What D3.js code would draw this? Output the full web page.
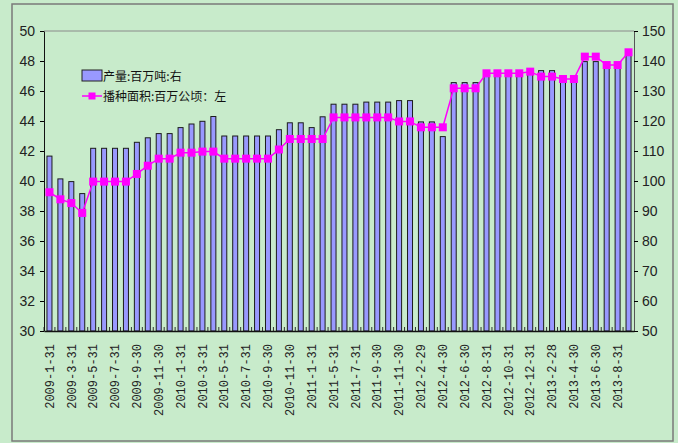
<!DOCTYPE html>
<html>
<head>
<meta charset="utf-8">
<script src="https://cdn.jsdelivr.net/npm/d3@7"></script>
<style>
  body { margin: 0; background: #fff; }
  svg { display: block; }
  .num { font-family: "Liberation Sans Narrow", "Arial Narrow", "Liberation Sans", sans-serif; font-size: 14px; fill: #222; }
  .xlab { font-family: "Liberation Mono", monospace; font-size: 12px; fill: #222; }
  .leg { font-family: "Noto Sans CJK SC", sans-serif; font-size: 12px; fill: #111; }
</style>
</head>
<body>
<div id="chart"></div>
<script>
// categories (month ends)
var dates = [
  "2009-1-31", "2009-2-28", "2009-3-31", "2009-4-30", "2009-5-31", "2009-6-30",
  "2009-7-31", "2009-8-31", "2009-9-30", "2009-10-31", "2009-11-30", "2009-12-31",
  "2010-1-31", "2010-2-28", "2010-3-31", "2010-4-30", "2010-5-31", "2010-6-30",
  "2010-7-31", "2010-8-31", "2010-9-30", "2010-10-31", "2010-11-30", "2010-12-31",
  "2011-1-31", "2011-3-31", "2011-5-31", "2011-6-30", "2011-7-31", "2011-8-31",
  "2011-9-30", "2011-10-31", "2011-11-30", "2011-12-31", "2012-2-29", "2012-3-31",
  "2012-4-30", "2012-5-31", "2012-6-30", "2012-7-31", "2012-8-31", "2012-9-30",
  "2012-10-31", "2012-11-30", "2012-12-31", "2013-1-31", "2013-2-28", "2013-3-31",
  "2013-4-30", "2013-5-31", "2013-6-30", "2013-7-31", "2013-8-31", "2013-9-30"
];
// 产量:百万吨 (bars, right axis)
var output = [
  108.3, 100.7, 99.8, 95.8, 110.9, 110.9, 110.9, 110.9, 112.9, 114.4, 115.8, 115.8,
  117.8, 119.0, 119.9, 121.5, 115.0, 115.0, 115.0, 115.0, 115.0, 117.1, 119.4, 119.4,
  117.8, 121.4, 125.6, 125.6, 125.6, 126.3, 126.3, 126.3, 126.8, 126.8, 119.7, 119.7,
  114.8, 132.8, 132.8, 132.8, 136.0, 136.0, 136.0, 136.0, 136.2, 136.8, 136.8, 133.7,
  133.7, 139.8, 139.8, 137.6, 137.6, 142.0
];
// 播种面积:百万公顷 (line, left axis)
var area = [
  39.25, 38.78, 38.53, 37.87, 39.96, 39.96, 39.96, 39.96, 40.47, 41.02, 41.49, 41.49,
  41.89, 41.89, 41.96, 41.96, 41.49, 41.49, 41.49, 41.49, 41.49, 42.10, 42.80, 42.80,
  42.80, 42.80, 44.24, 44.24, 44.24, 44.24, 44.24, 44.24, 43.97, 43.97, 43.58, 43.58,
  43.58, 46.18, 46.18, 46.18, 47.18, 47.18, 47.18, 47.18, 47.29, 46.96, 46.96, 46.80,
  46.80, 48.29, 48.29, 47.73, 47.73, 48.58
];
var leftTicks = [30, 32, 34, 36, 38, 40, 42, 44, 46, 48, 50];
var rightTicks = [50, 60, 70, 80, 90, 100, 110, 120, 130, 140, 150];
var legendNames = ["产量:百万吨:右", "播种面积:百万公顷：左"];

var W = 678, H = 443;
var plot = { left: 44, right: 634, top: 31, bottom: 331 };
var green = "#c8ebcb", barFill = "#9999ff", magenta = "#ff00ff";

var svg = d3.select("#chart").append("svg")
    .attr("width", W)
    .attr("height", H);

// background + outer frame
svg.append("rect").attr("width", W).attr("height", H).attr("fill", green);
svg.append("rect")
    .attr("x", 12).attr("y", 4)
    .attr("width", 661).attr("height", 437)
    .attr("fill", "none")
    .attr("stroke", "#7a7a7a")
    .attr("stroke-width", 1.5);

var x = d3.scaleBand().domain(dates).range([plot.left, plot.right]);
var yL = d3.scaleLinear().domain([30, 50]).range([plot.bottom, plot.top]);
var yR = d3.scaleLinear().domain([50, 150]).range([plot.bottom, plot.top]);

// top border of the plot area
svg.append("line")
    .attr("x1", plot.left).attr("x2", plot.right)
    .attr("y1", plot.top).attr("y2", plot.top)
    .attr("stroke", "#8a8a8a");

// bars
var barW = 5;
svg.append("g").selectAll("rect")
    .data(output)
    .join("rect")
    .attr("x", function (d, i) { return x(dates[i]) + x.bandwidth() / 2 - barW / 2; })
    .attr("y", function (d) { return yR(d); })
    .attr("width", barW)
    .attr("height", function (d) { return yR(50) - yR(d); })
    .attr("fill", barFill)
    .attr("stroke", "#1c1c1c")
    .attr("stroke-width", 1);

// category boundary ticks (pointing up inside the plot)
svg.append("g").selectAll("line")
    .data(dates)
    .join("line")
    .attr("x1", function (d) { return x(d); })
    .attr("x2", function (d) { return x(d); })
    .attr("y1", plot.bottom)
    .attr("y2", plot.bottom - 4)
    .attr("stroke", "#333");

// left axis
var gL = svg.append("g")
    .attr("class", "num")
    .attr("transform", "translate(" + plot.left + ",0)")
    .call(d3.axisLeft(yL).tickValues(leftTicks).tickSize(4).tickPadding(5).tickSizeOuter(0));
gL.select(".domain").attr("stroke", "#111");
gL.selectAll("text").attr("class", "num").attr("font-family", null).attr("font-size", null);

// right axis
var gR = svg.append("g")
    .attr("transform", "translate(" + plot.right + ",0)")
    .call(d3.axisRight(yR).tickValues(rightTicks).tickSize(4).tickPadding(4).tickSizeOuter(0));
gR.select(".domain").attr("stroke", "#555");
gR.selectAll("text").attr("class", "num").attr("font-family", null).attr("font-size", null);

// bottom axis with rotated date labels
var gB = svg.append("g")
    .attr("transform", "translate(0," + plot.bottom + ")")
    .call(d3.axisBottom(x)
        .tickValues(dates.filter(function (d, i) { return i % 2 === 0; }))
        .tickSize(0)
        .tickSizeOuter(0));
gB.select(".domain").attr("stroke", "#111").attr("stroke-width", 1.5);
gB.selectAll("text")
    .attr("class", "xlab")
    .attr("font-family", null).attr("font-size", null)
    .attr("transform", "rotate(-90)")
    .attr("text-anchor", "end")
    .attr("x", -13)
    .attr("y", 0)
    .attr("dy", "0.35em");

// area line + square markers
var line = d3.line()
    .x(function (d, i) { return x(dates[i]) + x.bandwidth() / 2; })
    .y(function (d) { return yL(d); });
svg.append("path")
    .datum(area)
    .attr("d", line)
    .attr("fill", "none")
    .attr("stroke", magenta)
    .attr("stroke-width", 1.5);
var mk = 8;
svg.append("g").selectAll("rect")
    .data(area)
    .join("rect")
    .attr("x", function (d, i) { return x(dates[i]) + x.bandwidth() / 2 - mk / 2; })
    .attr("y", function (d) { return yL(d) - mk / 2; })
    .attr("width", mk)
    .attr("height", mk)
    .attr("fill", magenta);

// legend
var lg = svg.append("g").attr("transform", "translate(82,70)");
lg.append("rect")
    .attr("width", 20).attr("height", 11)
    .attr("fill", barFill)
    .attr("stroke", "#222");
lg.append("text").attr("class", "leg").attr("x", 21).attr("y", 10.5).text(legendNames[0]);
lg.append("line")
    .attr("x1", 0).attr("x2", 20)
    .attr("y1", 26).attr("y2", 26)
    .attr("stroke", magenta).attr("stroke-width", 1.5);
lg.append("rect")
    .attr("x", 6.5).attr("y", 22.5)
    .attr("width", 7).attr("height", 7)
    .attr("fill", magenta);
lg.append("text").attr("class", "leg").attr("x", 21).attr("y", 30.5).text(legendNames[1]);
</script>
</body>
</html>
